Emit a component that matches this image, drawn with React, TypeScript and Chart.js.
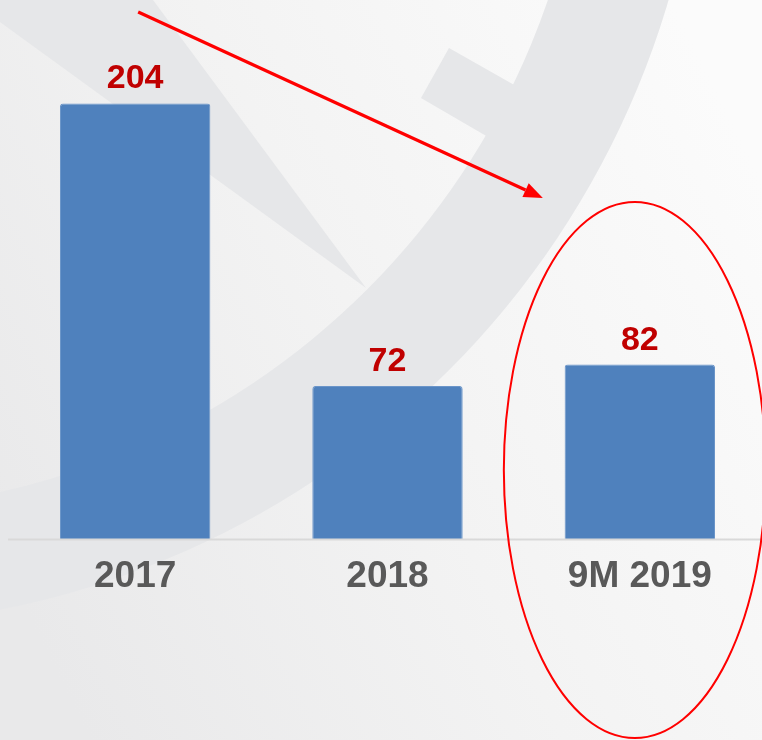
import React, { useEffect, useRef } from "react";
import { Chart, registerables } from "chart.js";

Chart.register(...registerables);

const categories: string[] = ["2017", "2018", "9M 2019"];
const values: number[] = [204, 72, 82];
const valueLabels: string[] = ["204", "72", "82"];

const W = 762;
const H = 740;
const CW = 770;

const bgPlugin = {
  id: "bgDecor",
  beforeDraw(chart: any) {
    const ctx = chart.ctx as CanvasRenderingContext2D;
    ctx.save();
    const g = ctx.createLinearGradient(0, 560, W, 180);
    g.addColorStop(0, "#e9e9ea");
    g.addColorStop(0.5, "#f3f3f3");
    g.addColorStop(1, "#fbfbfb");
    ctx.fillStyle = g;
    ctx.fillRect(0, 0, CW, H);

    const shade = "#e6e7e9";
    ctx.fillStyle = shade;
    // ring band
    const cx = -168, cy = -246;
    ctx.beginPath();
    ctx.arc(cx, cy, 872, 0, Math.PI * 2);
    ctx.arc(cx, cy, 757, 0, Math.PI * 2, true);
    ctx.fill("evenodd");
    // wedge
    ctx.beginPath();
    ctx.moveTo(0, 0);
    ctx.lineTo(153, 0);
    ctx.lineTo(366, 288);
    ctx.lineTo(0, 22);
    ctx.closePath();
    ctx.fill();
    // block
    ctx.beginPath();
    ctx.moveTo(449, 48);
    ctx.lineTo(421, 98);
    ctx.lineTo(488, 137);
    ctx.lineTo(516, 86);
    ctx.closePath();
    ctx.fill();
    ctx.restore();
  },
};

const overlayPlugin = {
  id: "overlay",
  afterDatasetsDraw(chart: any) {
    const ctx = chart.ctx as CanvasRenderingContext2D;
    const meta = chart.getDatasetMeta(0);
    const yScale = chart.scales.y;
    const base = yScale.getPixelForValue(0);
    ctx.save();
    // baseline
    ctx.strokeStyle = "#d9d9d9";
    ctx.lineWidth = 2;
    ctx.beginPath();
    ctx.moveTo(8, base - 0.5);
    ctx.lineTo(CW, base - 0.5);
    ctx.stroke();
    // value labels
    ctx.fillStyle = "#c00000";
    ctx.font = "bold 34px 'Liberation Sans', Arial, sans-serif";
    ctx.textAlign = "center";
    ctx.textBaseline = "alphabetic";
    meta.data.forEach((bar: any, i: number) => {
      ctx.fillText(valueLabels[i], bar.x, bar.y - 15);
    });
    // arrow
    const x0 = meta.data[0].x + 3, y0 = 12;
    const x1 = meta.data[2].x - 97, y1 = 198;
    const ang = Math.atan2(y1 - y0, x1 - x0);
    const hl = 19, hw = 7.5;
    const bx = x1 - hl * Math.cos(ang), by = y1 - hl * Math.sin(ang);
    ctx.strokeStyle = "#ff0000";
    ctx.fillStyle = "#ff0000";
    ctx.lineWidth = 3.2;
    ctx.beginPath();
    ctx.moveTo(x0, y0);
    ctx.lineTo(bx, by);
    ctx.stroke();
    ctx.beginPath();
    ctx.moveTo(x1, y1);
    ctx.lineTo(bx + hw * Math.sin(ang), by - hw * Math.cos(ang));
    ctx.lineTo(bx - hw * Math.sin(ang), by + hw * Math.cos(ang));
    ctx.closePath();
    ctx.fill();
    // ellipse around last bar
    ctx.lineWidth = 2;
    ctx.beginPath();
    ctx.ellipse(meta.data[2].x - 5, 470, 131, 268, 0, 0, Math.PI * 2);
    ctx.stroke();
    ctx.restore();
  },
};

export default function App() {
  const ref = useRef<HTMLCanvasElement | null>(null);
  useEffect(() => {
    if (!ref.current) return;
    const chart = new Chart(ref.current, {
      type: "bar",
      data: {
        labels: categories,
        datasets: [
          {
            data: values,
            backgroundColor: "#4f81bd",
            borderColor: "#6b95c9",
            borderWidth: 1,
            borderRadius: { topLeft: 3, topRight: 3, bottomLeft: 0, bottomRight: 0 },
            borderSkipped: "bottom",
            barPercentage: 0.596,
            categoryPercentage: 1,
          },
        ],
      },
      options: {
        responsive: false,
        animation: false,
        layout: { padding: { left: 9, right: 4, top: 5, bottom: 0 } },
        plugins: { legend: { display: false }, tooltip: { enabled: false } },
        scales: {
          x: {
            grid: { display: false, drawTicks: false },
            border: { display: false },
            ticks: {
              color: "#595959",
              padding: 15,
              font: { family: "'Liberation Sans', Arial, sans-serif", size: 37, weight: "bold" },
              maxRotation: 0,
            },
            afterFit(scale: any) {
              scale.height = 200;
            },
          },
          y: {
            display: false,
            min: 0,
            max: 250,
          },
        },
      },
      plugins: [bgPlugin, overlayPlugin],
    });
    return () => chart.destroy();
  }, []);
  return (
    <div style={{ position: "absolute", left: 0, top: 0, width: W, height: H, overflow: "hidden" }}>
      <canvas ref={ref} width={CW} height={H} style={{ display: "block", width: CW, height: H }} />
    </div>
  );
}
